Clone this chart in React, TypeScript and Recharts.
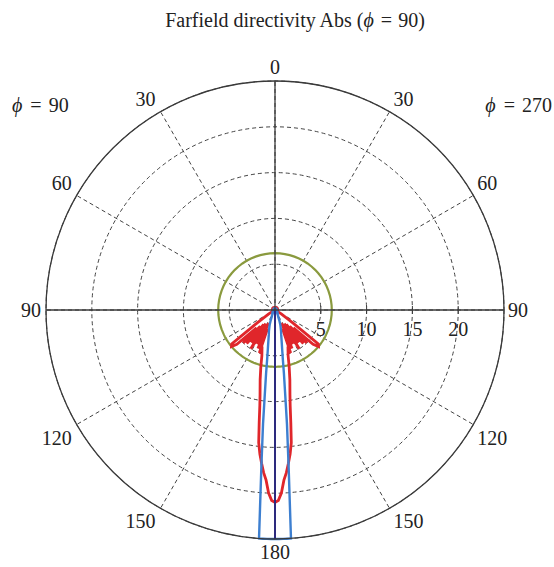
import React from 'react';
import { RadarChart, Radar, PolarGrid, PolarAngleAxis, PolarRadiusAxis } from 'recharts';

// angle (deg) measured from the top; 0..180 = phi 90 side (left), 180..360 = phi 270 side (right)
const angleDeg = [
  0, 5, 10, 15, 20, 25, 30, 35, 40, 45, 50, 55, 60, 65, 70, 75, 80, 85, 90, 95, 100, 105, 110,
  116, 118, 120, 122, 124, 126, 128, 130, 132, 134, 136, 138, 140, 142, 144, 146, 148, 150, 152, 154, 156, 158, 160, 162, 164, 166, 168,
  170, 171, 172, 173, 174, 175, 176, 177, 178, 179, 180, 181, 182, 183, 184, 185, 186, 187, 188, 189, 190,
  192, 194, 196, 198, 200, 202, 204, 206, 208, 210, 212, 214, 216, 218, 220, 222, 224, 226, 228, 230, 232, 234, 236, 238, 240, 242, 244,
  250, 255, 260, 265, 270, 275, 280, 285, 290, 295, 300, 305, 310, 315, 320, 325, 330, 335, 340, 345, 350, 355,
];

const redGain = [
  0.2, 0.2, 0.2, 0.2, 0.2, 0.3, 0.3, 0.3, 0.3, 0.3, 0.3, 0.3, 0.3, 0.3, 0.3, 0.3, 0.3, 0.3, 0.3, 0.3, 0.3, 0.3, 0.3,
  0.3, 0.4, 0.5, 0.8, 1.2, 2.4, 6.0, 6.2, 5.6, 2.8, 5.0, 2.4, 4.8, 2.0, 4.4, 1.8, 5.0, 2.4, 4.2, 1.6, 4.6, 2.2, 5.0, 4.6, 5.2, 6.4, 7.8,
  9.4, 10.6, 12.4, 14.6, 15.8, 16.8, 17.8, 18.6, 20.0, 20.8, 21.0, 20.8, 20.0, 18.6, 17.8, 16.8, 15.8, 14.6, 12.4, 10.6, 9.4,
  7.8, 6.4, 5.2, 4.6, 5.0, 2.2, 4.6, 1.6, 4.2, 2.4, 5.0, 1.8, 4.4, 2.0, 4.8, 2.4, 5.0, 2.8, 5.6, 6.2, 6.0, 2.4, 1.2, 0.8, 0.5, 0.4, 0.3,
  0.3, 0.3, 0.3, 0.3, 0.3, 0.3, 0.3, 0.3, 0.3, 0.3, 0.3, 0.3, 0.3, 0.3, 0.3, 0.3, 0.3, 0.2, 0.2, 0.2, 0.2, 0.2,
];

const blueGain = [
  0.2, 0.2, 0.2, 0.2, 0.2, 0.2, 0.2, 0.2, 0.2, 0.2, 0.2, 0.2, 0.2, 0.2, 0.2, 0.2, 0.2, 0.2, 0.2, 0.2, 0.2, 0.2, 0.2,
  0.2, 0.2, 0.2, 0.2, 0.2, 0.2, 0.3, 0.3, 0.3, 0.3, 0.3, 0.4, 0.4, 0.4, 0.5, 0.5, 0.5, 0.6, 0.7, 0.8, 1.0, 1.3, 1.7, 2.0, 2.4, 2.8, 3.5,
  4.6, 5.5, 7.0, 9.0, 12.5, 17.0, 25, 25, 25, 25, 25, 25, 25, 25, 25, 17.0, 12.5, 9.0, 7.0, 5.5, 4.6,
  3.5, 2.8, 2.4, 2.0, 1.7, 1.3, 1.0, 0.8, 0.7, 0.6, 0.5, 0.5, 0.5, 0.4, 0.4, 0.4, 0.3, 0.3, 0.3, 0.3, 0.3, 0.2, 0.2, 0.2, 0.2, 0.2, 0.2,
  0.2, 0.2, 0.2, 0.2, 0.2, 0.2, 0.2, 0.2, 0.2, 0.2, 0.2, 0.2, 0.2, 0.2, 0.2, 0.2, 0.2, 0.2, 0.2, 0.2, 0.2, 0.2,
];

const greenLevel = 6.2;
const navyAngle = 180;
const navyGain = 25;

const angleTicks = [0, 30, 60, 90, 120, 150, 180, 210, 240, 270, 300, 330];
const radiusTicks = [0, 5, 10, 15, 20, 25];
const radiusLabels = [5, 10, 15, 20];

const rows = angleDeg.map((angle, i) => ({
  angle,
  green: greenLevel,
  red: redGain[i],
  blue: blueGain[i],
  navy: angle === navyAngle ? navyGain : 0,
}));

const W = 554;
const H = 567;
const CX = 275;
const CY = 310;
const R = 229;
const FONT = '"Liberation Serif", "DejaVu Serif", serif';
const FS = 20;
const AXIS = { stroke: '#3a3a3a', strokeWidth: 1.3 };

const renderAngleTick = (props: any) => {
  const { payload } = props;
  const v = payload.value as number;
  const a = (-payload.coordinate * Math.PI) / 180;
  const px = CX + R * Math.cos(a);
  const py = CY + R * Math.sin(a);
  const label = v <= 180 ? v : 360 - v;
  let x = px;
  let y = py;
  let anchor: any = 'middle';
  if (v === 0) {
    y = py - 14;
  } else if (v === 180) {
    y = py + 13;
  } else {
    anchor = v < 180 ? 'end' : 'start';
    x = v < 180 ? px - 5 : px + 4;
    const th = v < 180 ? v : 360 - v;
    y = th < 90 ? py - 13 : th > 90 ? py + 13 : py;
  }
  return (
    <text x={x} y={y} textAnchor={anchor} dominantBaseline="central" fontFamily={FONT} fontSize={FS} fill="#222">
      {label}
    </text>
  );
};

const renderRadiusTick = (props: any) => {
  const { x, y, payload } = props;
  if (!radiusLabels.includes(payload.value)) return <g />;
  return (
    <g>
      <line x1={x} y1={y - 4} x2={x} y2={y + 4} stroke="#3a3a3a" strokeWidth={1} />
      <text x={x} y={y + 19} textAnchor="middle" dominantBaseline="central" fontFamily={FONT} fontSize={FS} fill="#222">
        {payload.value}
      </text>
    </g>
  );
};

export default function App() {
  return (
    <div style={{ position: 'absolute', left: 0, top: 0, width: W, height: H, background: '#fff' }}>
      <RadarChart
        width={W}
        height={H}
        cx={CX}
        cy={CY}
        outerRadius={R}
        startAngle={90}
        endAngle={450}
        data={rows}
        margin={{ top: 0, right: 0, bottom: 0, left: 0 }}
      >
        <PolarGrid gridType="circle" stroke="#444" strokeDasharray="4 3" strokeWidth={1} />
        <PolarAngleAxis
          dataKey="angle"
          type="number"
          domain={[0, 360]}
          ticks={angleTicks as any}
          axisLineType="circle"
          axisLine={AXIS}
          tickLine={false}
          tick={renderAngleTick}
        />
        <PolarRadiusAxis
          angle={0}
          domain={[0, 25]}
          ticks={radiusTicks as any}
          tickCount={6}
          axisLine={AXIS}
          tick={renderRadiusTick}
        />
        <PolarRadiusAxis radiusAxisId="left" angle={180} domain={[0, 25]} tickCount={6} tick={false} axisLine={AXIS} />
        <PolarRadiusAxis radiusAxisId="top" angle={90} domain={[0, 25]} tickCount={6} tick={false} axisLine={AXIS} />
        <Radar radiusAxisId="left" dataKey="green" stroke="#8a9a3e" strokeWidth={2.2} fill="none" fillOpacity={0} dot={false} isAnimationActive={false} />
        <Radar dataKey="red" stroke="#e0262b" strokeWidth={2.8} fill="none" fillOpacity={0} dot={false} isAnimationActive={false} />
        <Radar dataKey="blue" stroke="#3d7fd0" strokeWidth={2.4} fill="none" fillOpacity={0} dot={false} isAnimationActive={false} />
        <Radar radiusAxisId="top" dataKey="navy" stroke="#2d2a7e" strokeWidth={2} fill="none" fillOpacity={0} dot={false} isAnimationActive={false} />
      </RadarChart>
      <svg width={W} height={H} style={{ position: 'absolute', left: 0, top: 0, pointerEvents: 'none' }}>
        <text x={295} y={20} textAnchor="middle" dominantBaseline="central" fontFamily={FONT} fontSize={FS} fill="#222">
          <tspan>Farfield directivity Abs (</tspan>
          <tspan fontStyle="italic">ϕ</tspan>
          <tspan dx={7}>=</tspan>
          <tspan dx={6}>90)</tspan>
        </text>
        <text x={12} y={105} textAnchor="start" dominantBaseline="central" fontFamily={FONT} fontSize={FS} fill="#222">
          <tspan fontStyle="italic">ϕ</tspan>
          <tspan dx={8}>=</tspan>
          <tspan dx={7}>90</tspan>
        </text>
        <text x={552} y={105} textAnchor="end" dominantBaseline="central" fontFamily={FONT} fontSize={FS} fill="#222">
          <tspan fontStyle="italic">ϕ</tspan>
          <tspan dx={8}>=</tspan>
          <tspan dx={7}>270</tspan>
        </text>
      </svg>
    </div>
  );
}
